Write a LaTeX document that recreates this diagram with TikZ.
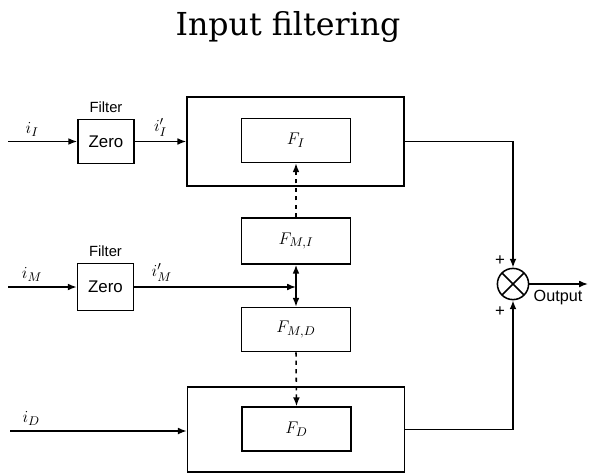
\documentclass[tikz,border=0pt]{standalone}
\usepackage{fontspec}
\setsansfont{Liberation Sans}
\newfontfamily\titlefont{DejaVu Serif}
\usetikzlibrary{arrows.meta,positioning}

\begin{document}
\begin{tikzpicture}[
    x=0.025cm, y=-0.025cm,
    every node/.style={font=\sffamily\fontsize{10.5}{12}\selectfont},
    sig/.style={font=\fontsize{13}{15}\selectfont},
    block/.style={draw, line width=1.1pt, inner sep=0pt},
    filterbox/.style={block, minimum width=1.4cm, minimum height=1.1cm, font=\sffamily\fontsize{12}{14}\selectfont},
    funcbox/.style={block, minimum width=2.72cm, minimum height=1.1cm, font=\fontsize{12.5}{14}\selectfont},
    outerbox/.style={block, minimum width=5.42cm, minimum height=2.2cm},
    sumnode/.style={draw, line width=1.1pt, circle, minimum size=0.78cm, inner sep=0pt,
        path picture={\draw[line width=1.1pt] (path picture bounding box.north west) -- (path picture bounding box.south east)
            (path picture bounding box.south west) -- (path picture bounding box.north east);}},
    flow/.style={-{Latex[length=2.2mm, width=1.7mm]}, line width=1.1pt},
    feedback/.style={-{Latex[length=2.2mm, width=1.7mm]}, line width=1.1pt, dashed}
]
\useasboundingbox (0,0) rectangle (590,475);
\node[anchor=base, font=\titlefont\fontsize{22.5}{27}\selectfont] (title) at (288,35) {Input filtering};

% top path
\node[outerbox, minimum height=2.22cm] (outerI) at (295.5,141.5) {};
\node[funcbox] (FI) at (296,140.5) {$F_I$};
\node[filterbox] (filterI) at (106,141.5) {Zero};
\node[above=1pt of filterI] (filterIlbl) {Filter};

% middle path
\node[funcbox, minimum height=1.15cm] (FMI) at (296,241) {$F_{M,I}$};
\node[funcbox] (FMD) at (296,329.5) {$F_{M,D}$};
\node[filterbox, minimum height=1.17cm] (filterM) at (105.5,287) {Zero};
\node[above=1pt of filterM] (filterMlbl) {Filter};

% bottom path
\node[outerbox, minimum height=2.12cm] (outerD) at (296,429.5) {};
\node[funcbox] (FD) at (296.5,429) {$F_D$};

% summing point
\node[sumnode] (sum) at (513,284) {};
\node[font=\sffamily\fontsize{12}{14}\selectfont] (plusT) at (500,261) {+};
\node[font=\sffamily\fontsize{12}{14}\selectfont] (plusB) at (500,312) {+};
\node[font=\sffamily\fontsize{11.5}{13}\selectfont] (outlbl) at (558,298) {Output};

\coordinate (inI) at (8,141.5);
\coordinate (inM) at (8,287);
\coordinate (inD) at (10,431);
\coordinate (jM) at (FMI.south |- filterM.east);
\coordinate (out) at (588,284);

\draw[flow] (inI) -- node[above, sig, pos=0.35] {$i_I$} (filterI.west);
\draw[flow] (filterI.east) -- node[above, sig, pos=0.5] {$i'_I$} (outerI.west);
\draw[flow] (inM) -- node[above, sig, pos=0.35] {$i_M$} (filterM.west);
\draw[flow] (filterM.east) -- node[above, sig, pos=0.17] {$i'_M$} (jM);
\draw[flow] (jM) -- (FMI.south);
\draw[flow] (jM) -- (FMD.north);
\draw[flow] (inD) -- node[above, sig, pos=0.12] {$i_D$} (inD -| outerD.west);
\draw[feedback] (FMI.north) -- (FI.south);
\draw[feedback] (FMD.south) -- (FD.north);
\draw[flow] (outerI.east) -| (sum.north);
\draw[flow] (outerD.east) -| (sum.south);
\draw[flow] (sum.east) -- (out);
\end{tikzpicture}
\end{document}
